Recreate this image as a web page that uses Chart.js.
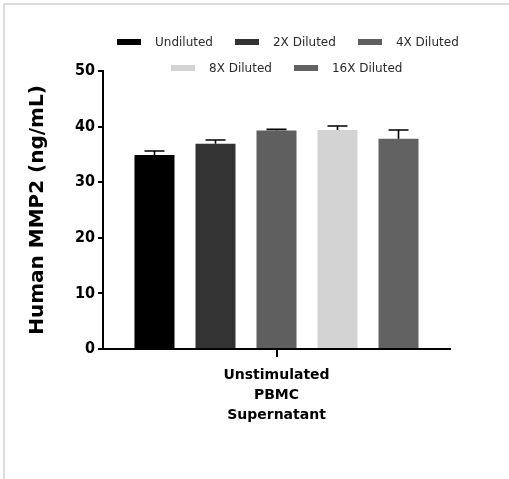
<!DOCTYPE html>
<html>
<head>
<meta charset="utf-8">
<script src="https://cdn.jsdelivr.net/npm/chart.js@4/dist/chart.umd.min.js"></script>
<style>
  html, body { margin: 0; overflow: hidden; }
  body { width: 509px; height: 479px; background: #fff; position: relative; }
  #frame { position: absolute; left: 3px; top: 3px; width: 506px; height: 476px; border-left: 2px solid #dcdcdc; border-top: 2px solid #dcdcdc; box-sizing: border-box; }
  #wrap { position: absolute; left: 0; top: 0; width: 509px; height: 479px; }
  .row { position: absolute; display: flex; align-items: center; font-family: "DejaVu Sans"; font-size: 12px; color: #2a2a2a; white-space: nowrap; }
  .box { width: 24px; height: 6px; margin-right: 14px; }
  .item { display: flex; align-items: center; margin-right: 22px; }
</style>
</head>
<body>
<div id="frame"></div>
<div id="wrap"><canvas id="myChart" width="509" height="479"></canvas></div>
<div class="row" id="row1" style="left:117px; top:35px;"></div>
<div class="row" id="row2" style="left:171px; top:61px;"></div>
<script>
// chart data
let categories = [["Unstimulated", "PBMC", "Supernatant"]];
let seriesNames = ["Undiluted", "2X Diluted", "4X Diluted", "8X Diluted", "16X Diluted"];
let seriesValues = [34.9, 36.9, 39.3, 39.4, 37.8];
let seriesErrors = [0.7, 0.7, 0.2, 0.7, 1.6];
let barColors = ["#000000", "#333333", "#5f5f5f", "#d3d3d3", "#626262"];
let yTicks = [0, 10, 20, 30, 40, 50];

let datasets = [];
for (let i = 0; i < seriesNames.length; i++) {
    datasets.push({
        label: seriesNames[i],
        data: [seriesValues[i]],
        err: [seriesErrors[i]],
        backgroundColor: barColors[i],
        borderWidth: 0
    });
}

// legend (two rows like the original)
for (let i = 0; i < seriesNames.length; i++) {
    let row = document.getElementById(i < 3 ? "row1" : "row2");
    let item = document.createElement("div");
    item.className = "item";
    item.innerHTML = '<div class="box" style="background:' + barColors[i] + '"></div><span>' + seriesNames[i] + '</span>';
    row.appendChild(item);
}

// upper error bars with caps
let errorBars = {
    id: "errorBars",
    afterDatasetsDraw(chart) {
        let ctx = chart.ctx;
        let y = chart.scales.y;
        ctx.save();
        ctx.strokeStyle = "#000";
        ctx.lineWidth = 1.6;
        chart.data.datasets.forEach(function (ds, i) {
            let bar = chart.getDatasetMeta(i).data[0];
            let top = y.getPixelForValue(ds.data[0] + ds.err[0]);
            ctx.beginPath();
            ctx.moveTo(bar.x, bar.y);
            ctx.lineTo(bar.x, top);
            ctx.moveTo(bar.x - 10, top);
            ctx.lineTo(bar.x + 10, top);
            ctx.stroke();
        });
        ctx.restore();
    }
};

let pollChart = new Chart(document.getElementById("myChart").getContext("2d"), {
    type: "bar",
    data: { labels: categories, datasets: datasets },
    options: {
        responsive: false,
        animation: false,
        categoryPercentage: 0.879,
        barPercentage: 0.656,
        layout: { padding: { left: 0, top: 71, right: 59, bottom: 0 } },
        plugins: {
            legend: { display: false },
            tooltip: { enabled: false }
        },
        scales: {
            y: {
                min: 0,
                max: 50,
                afterFit: function (s) { s.width = 103; },
                afterBuildTicks: function (s) { s.ticks = yTicks.map(v => ({ value: v })); },
                border: { display: true, color: "#000", width: 2 },
                grid: { drawOnChartArea: false, drawTicks: true, tickLength: 5, color: "#000", lineWidth: 2 },
                ticks: { color: "#000", padding: 3, font: { family: "DejaVu Sans Condensed", size: 16, weight: "bold" } },
                title: {
                    display: true,
                    text: "Human MMP2 (ng/mL)",
                    color: "#000",
                    padding: { top: 26, bottom: 0 },
                    font: { family: "DejaVu Sans", size: 20, weight: "bold" }
                }
            },
            x: {
                afterFit: function (s) { s.height = 130; },
                border: { display: true, color: "#000", width: 2 },
                grid: { offset: false, drawOnChartArea: false, drawTicks: true, tickLength: 8, color: "#000", lineWidth: 2 },
                ticks: { color: "#000", padding: 9, font: { family: "DejaVu Sans", size: 14, weight: "bold", lineHeight: 1.4 } }
            }
        }
    },
    plugins: [errorBars]
});
</script>
</body>
</html>
